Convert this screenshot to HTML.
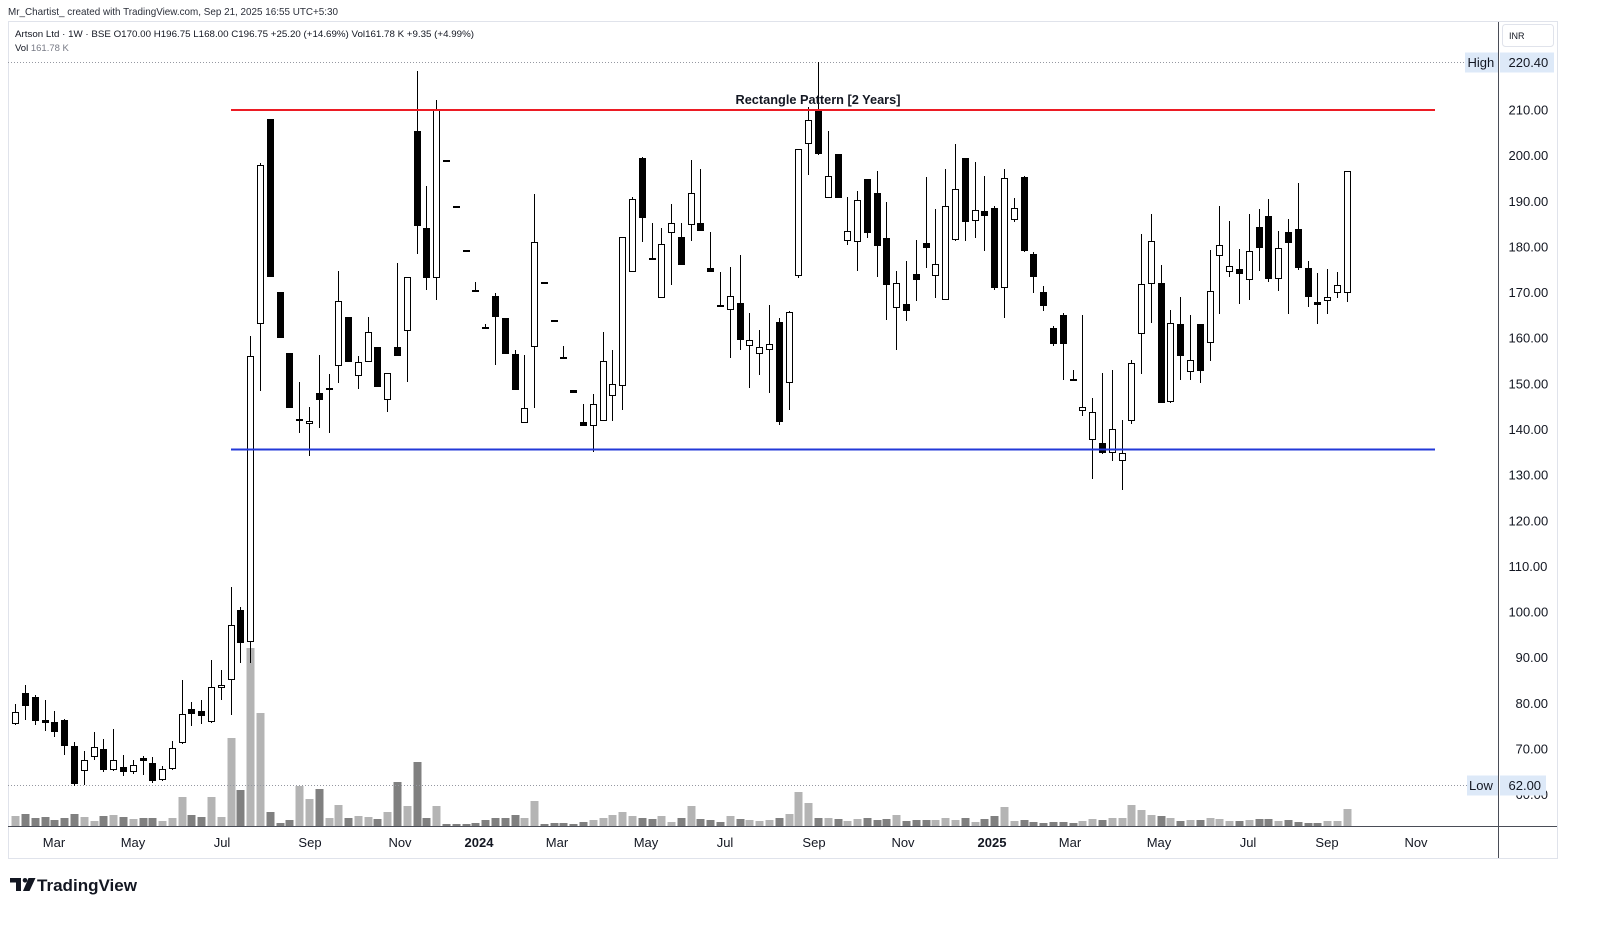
<!DOCTYPE html>
<html><head><meta charset="utf-8"><style>
html,body{margin:0;padding:0;background:#fff;}
body{width:1600px;height:927px;overflow:hidden;}
svg{display:block;font-family:"Liberation Sans",sans-serif;}
</style></head><body>
<svg width="1600" height="927" viewBox="0 0 1600 927" xmlns="http://www.w3.org/2000/svg">
<rect x="0" y="0" width="1600" height="927" fill="#fff"/>
<text x="8" y="15" font-size="10.5" fill="#2a2e39" textLength="330" lengthAdjust="spacingAndGlyphs">Mr_Chartist_ created with TradingView.com, Sep 21, 2025 16:55 UTC+5:30</text>
<rect x="8.5" y="21.5" width="1549" height="837" fill="none" stroke="#e0e3eb"/>
<text x="15" y="37" font-size="9.5" fill="#131722" textLength="459" lengthAdjust="spacingAndGlyphs">Artson Ltd · 1W · BSE  O170.00  H196.75  L168.00  C196.75  +25.20 (+14.69%)  Vol161.78 K  +9.35 (+4.99%)</text>
<text x="15" y="51" font-size="9.5" fill="#131722">Vol <tspan fill="#787b86">161.78 K</tspan></text>

<!-- volume -->
<g fill="#b4b4b4">
<rect x="11.5" y="816" width="8" height="10"/><rect x="80.5" y="817" width="8" height="9"/><rect x="90.5" y="821" width="8" height="5"/><rect x="109.5" y="815" width="8" height="11"/><rect x="129.5" y="819" width="8" height="7"/><rect x="158.5" y="821" width="8" height="5"/><rect x="168.5" y="818" width="8" height="8"/><rect x="178.5" y="797" width="8" height="29"/><rect x="207.5" y="797" width="8" height="29"/><rect x="217.5" y="817" width="8" height="9"/><rect x="227.5" y="738" width="8" height="88"/><rect x="246.5" y="648" width="8" height="178"/><rect x="256.5" y="713" width="8" height="113"/><rect x="295.5" y="786" width="8" height="40"/><rect x="305.5" y="799" width="8" height="27"/><rect x="325.5" y="818" width="8" height="8"/><rect x="334.5" y="805" width="8" height="21"/><rect x="354.5" y="816" width="8" height="10"/><rect x="364.5" y="817" width="8" height="9"/><rect x="383.5" y="812" width="8" height="14"/><rect x="403.5" y="806" width="8" height="20"/><rect x="432.5" y="806" width="8" height="20"/><rect x="520.5" y="818" width="8" height="8"/><rect x="530.5" y="801" width="8" height="25"/><rect x="589.5" y="820" width="8" height="6"/><rect x="599.5" y="818" width="8" height="8"/><rect x="608.5" y="815" width="8" height="11"/><rect x="618.5" y="812" width="8" height="14"/><rect x="628.5" y="816" width="8" height="10"/><rect x="657.5" y="816" width="8" height="10"/><rect x="667.5" y="822" width="8" height="4"/><rect x="687.5" y="806" width="8" height="20"/><rect x="726.5" y="816" width="8" height="10"/><rect x="745.5" y="820" width="8" height="6"/><rect x="755.5" y="821" width="8" height="5"/><rect x="765.5" y="820" width="8" height="6"/><rect x="785.5" y="814" width="8" height="12"/><rect x="794.5" y="792" width="8" height="34"/><rect x="804.5" y="803" width="8" height="23"/><rect x="824.5" y="818" width="8" height="8"/><rect x="843.5" y="821" width="8" height="5"/><rect x="853.5" y="819" width="8" height="7"/><rect x="892.5" y="815" width="8" height="11"/><rect x="931.5" y="820" width="8" height="6"/><rect x="941.5" y="818" width="8" height="8"/><rect x="951.5" y="820" width="8" height="6"/><rect x="971.5" y="822" width="8" height="4"/><rect x="1000.5" y="807" width="8" height="19"/><rect x="1010.5" y="821" width="8" height="5"/><rect x="1078.5" y="821" width="8" height="5"/><rect x="1088.5" y="819" width="8" height="7"/><rect x="1108.5" y="818" width="8" height="8"/><rect x="1118.5" y="818" width="8" height="8"/><rect x="1127.5" y="805" width="8" height="21"/><rect x="1137.5" y="810" width="8" height="16"/><rect x="1147.5" y="815" width="8" height="11"/><rect x="1166.5" y="818" width="8" height="8"/><rect x="1186.5" y="820" width="8" height="6"/><rect x="1206.5" y="818" width="8" height="8"/><rect x="1215.5" y="819" width="8" height="7"/><rect x="1225.5" y="821" width="8" height="5"/><rect x="1245.5" y="820" width="8" height="6"/><rect x="1274.5" y="821" width="8" height="5"/><rect x="1323.5" y="821" width="8" height="5"/><rect x="1333.5" y="821" width="8" height="5"/><rect x="1343.5" y="809" width="8" height="17"/>
</g>
<g fill="#808080">
<rect x="21.5" y="814" width="8" height="12"/><rect x="31.5" y="818" width="8" height="8"/><rect x="41.5" y="817" width="8" height="9"/><rect x="50.5" y="820" width="8" height="6"/><rect x="60.5" y="818" width="8" height="8"/><rect x="70.5" y="814" width="8" height="12"/><rect x="99.5" y="816" width="8" height="10"/><rect x="119.5" y="817" width="8" height="9"/><rect x="139.5" y="818" width="8" height="8"/><rect x="148.5" y="818" width="8" height="8"/><rect x="187.5" y="815" width="8" height="11"/><rect x="197.5" y="817" width="8" height="9"/><rect x="236.5" y="790" width="8" height="36"/><rect x="266.5" y="812" width="8" height="14"/><rect x="276.5" y="823" width="8" height="3"/><rect x="285.5" y="820" width="8" height="6"/><rect x="315.5" y="789" width="8" height="37"/><rect x="344.5" y="818" width="8" height="8"/><rect x="373.5" y="819" width="8" height="7"/><rect x="393.5" y="782" width="8" height="44"/><rect x="413.5" y="762" width="8" height="64"/><rect x="422.5" y="818" width="8" height="8"/><rect x="442.5" y="824" width="8" height="2"/><rect x="452.5" y="824" width="8" height="2"/><rect x="462.5" y="824" width="8" height="2"/><rect x="471.5" y="823" width="8" height="3"/><rect x="481.5" y="820" width="8" height="6"/><rect x="491.5" y="818" width="8" height="8"/><rect x="501.5" y="818" width="8" height="8"/><rect x="511.5" y="815" width="8" height="11"/><rect x="540.5" y="824" width="8" height="2"/><rect x="550.5" y="823" width="8" height="3"/><rect x="559.5" y="823" width="8" height="3"/><rect x="569.5" y="824" width="8" height="2"/><rect x="579.5" y="822" width="8" height="4"/><rect x="638.5" y="818" width="8" height="8"/><rect x="648.5" y="819" width="8" height="7"/><rect x="677.5" y="818" width="8" height="8"/><rect x="696.5" y="819" width="8" height="7"/><rect x="706.5" y="820" width="8" height="6"/><rect x="716.5" y="822" width="8" height="4"/><rect x="736.5" y="819" width="8" height="7"/><rect x="775.5" y="818" width="8" height="8"/><rect x="814.5" y="818" width="8" height="8"/><rect x="834.5" y="819" width="8" height="7"/><rect x="863.5" y="818" width="8" height="8"/><rect x="873.5" y="820" width="8" height="6"/><rect x="882.5" y="819" width="8" height="7"/><rect x="902.5" y="821" width="8" height="5"/><rect x="912.5" y="820" width="8" height="6"/><rect x="922.5" y="820" width="8" height="6"/><rect x="961.5" y="818" width="8" height="8"/><rect x="980.5" y="819" width="8" height="7"/><rect x="990.5" y="816" width="8" height="10"/><rect x="1020.5" y="820" width="8" height="6"/><rect x="1029.5" y="822" width="8" height="4"/><rect x="1039.5" y="823" width="8" height="3"/><rect x="1049.5" y="822" width="8" height="4"/><rect x="1059.5" y="822" width="8" height="4"/><rect x="1069.5" y="823" width="8" height="3"/><rect x="1098.5" y="820" width="8" height="6"/><rect x="1157.5" y="816" width="8" height="10"/><rect x="1176.5" y="821" width="8" height="5"/><rect x="1196.5" y="820" width="8" height="6"/><rect x="1235.5" y="821" width="8" height="5"/><rect x="1255.5" y="819" width="8" height="7"/><rect x="1264.5" y="819" width="8" height="7"/><rect x="1284.5" y="820" width="8" height="6"/><rect x="1294.5" y="822" width="8" height="4"/><rect x="1304.5" y="823" width="8" height="3"/><rect x="1313.5" y="823" width="8" height="3"/>
</g>

<!-- high/low dotted lines -->
<line x1="8" y1="62.5" x2="1465" y2="62.5" stroke="#9598a1" stroke-width="1" stroke-dasharray="1 2"/>
<line x1="8" y1="785.5" x2="1467" y2="785.5" stroke="#9598a1" stroke-width="1" stroke-dasharray="1 2"/>

<!-- wicks -->
<path fill="none" stroke="#000" stroke-width="1" d="M15.5 704V725M25.5 685V720M35.5 695V725M45.5 700V731M54.5 711V737M64.5 719V755M74.5 742V786M84.5 751V785M94.5 732V760M103.5 739V772M113.5 729V771M123.5 755V776M133.5 760V774M143.5 756V775M152.5 757V783M162.5 766V781M172.5 741V770M182.5 680V744M191.5 702V726M201.5 700V724M211.5 660V723M221.5 670V700M231.5 587V715M240.5 607V663M250.5 336V663M260.5 163V391M270.5 119V277M280.5 292V338M289.5 353V408M299.5 382V433M309.5 407V456M319.5 355V428M329.5 374V433M338.5 271V383M348.5 317V362M358.5 356V389M368.5 317V362M377.5 347V387M387.5 373V412M397.5 263V356M407.5 277V382M417.5 71V254M426.5 186V290M436.5 100V300M475.5 282V291M485.5 324V329M495.5 293V365M505.5 318V354M515.5 350V390M524.5 355V423M534.5 194V408M563.5 346V358M583.5 404V426M593.5 394V452M603.5 332V421M612.5 350V421M622.5 237V410M632.5 197V272M642.5 157V242M652.5 223V259M661.5 228V298M671.5 204V285M681.5 223V265M691.5 160V241M700.5 169V231M710.5 232V272M720.5 272V307M730.5 267V358M740.5 255V350M749.5 313V388M759.5 330V375M769.5 305V393M779.5 318V425M789.5 311V410M798.5 149V278M808.5 107V175M818.5 62V155M828.5 131V198M838.5 154V198M847.5 197V245M857.5 191V271M867.5 179V238M877.5 171V277M886.5 202V320M896.5 271V350M906.5 261V321M916.5 240V301M926.5 177V268M935.5 209V298M945.5 169V300M955.5 144V241M965.5 158V241M975.5 162V238M984.5 176V251M994.5 206V290M1004.5 169V318M1014.5 198V222M1024.5 176V252M1033.5 252V293M1043.5 286V311M1053.5 326V346M1063.5 313V380M1073.5 370V381M1082.5 315V416M1092.5 398V479M1102.5 373V454M1112.5 370V461M1122.5 420V490M1131.5 360V424M1141.5 234V374M1151.5 214V323M1161.5 265V403M1170.5 310V403M1180.5 297V380M1190.5 315V380M1200.5 324V383M1210.5 250V361M1219.5 206V314M1229.5 221V277M1239.5 249V304M1249.5 214V300M1259.5 209V271M1268.5 199V282M1278.5 231V291M1288.5 219V314M1298.5 183V270M1308.5 261V307M1317.5 273V324M1327.5 269V314M1337.5 272V298M1347.5 171V302"/>

<!-- black bodies -->
<g fill="#000">
<rect x="22" y="693" width="7" height="13"/><rect x="32" y="697" width="7" height="24"/><rect x="42" y="720" width="7" height="3"/><rect x="51" y="722" width="7" height="10"/><rect x="61" y="720" width="7" height="26"/><rect x="71" y="746" width="7" height="38"/><rect x="100" y="749" width="7" height="21"/><rect x="120" y="767" width="7" height="5"/><rect x="140" y="758" width="7" height="3"/><rect x="149" y="763" width="7" height="18"/><rect x="188" y="709" width="7" height="5"/><rect x="198" y="711" width="7" height="5"/><rect x="237" y="610" width="7" height="33"/><rect x="267" y="119" width="7" height="158"/><rect x="277" y="292" width="7" height="46"/><rect x="286" y="353" width="7" height="55"/><rect x="296" y="419" width="7" height="2"/><rect x="316" y="393" width="7" height="7"/><rect x="326" y="388" width="7" height="2"/><rect x="345" y="317" width="7" height="45"/><rect x="374" y="347" width="7" height="40"/><rect x="394" y="347" width="7" height="9"/><rect x="414" y="131" width="7" height="95"/><rect x="423" y="228" width="7" height="50"/><rect x="443" y="160" width="7" height="2"/><rect x="453" y="206" width="7" height="2"/><rect x="463" y="250" width="7" height="2"/><rect x="472" y="290" width="7" height="2"/><rect x="482" y="327" width="7" height="2"/><rect x="492" y="296" width="7" height="21"/><rect x="502" y="318" width="7" height="36"/><rect x="512" y="354" width="7" height="36"/><rect x="541" y="282" width="7" height="2"/><rect x="551" y="320" width="7" height="2"/><rect x="560" y="357" width="7" height="2"/><rect x="570" y="390" width="7" height="3"/><rect x="580" y="422" width="7" height="4"/><rect x="639" y="158" width="7" height="60"/><rect x="649" y="258" width="7" height="2"/><rect x="678" y="237" width="7" height="28"/><rect x="697" y="223" width="7" height="8"/><rect x="707" y="268" width="7" height="4"/><rect x="717" y="305" width="7" height="2"/><rect x="737" y="303" width="7" height="37"/><rect x="776" y="322" width="7" height="100"/><rect x="815" y="109" width="7" height="45"/><rect x="835" y="154" width="7" height="44"/><rect x="864" y="179" width="7" height="54"/><rect x="874" y="193" width="7" height="53"/><rect x="883" y="238" width="7" height="47"/><rect x="903" y="304" width="7" height="7"/><rect x="913" y="274" width="7" height="6"/><rect x="923" y="243" width="7" height="5"/><rect x="962" y="158" width="7" height="64"/><rect x="981" y="211" width="7" height="5"/><rect x="991" y="208" width="7" height="80"/><rect x="1021" y="177" width="7" height="74"/><rect x="1030" y="254" width="7" height="23"/><rect x="1040" y="292" width="7" height="14"/><rect x="1050" y="328" width="7" height="16"/><rect x="1060" y="315" width="7" height="29"/><rect x="1070" y="379" width="7" height="2"/><rect x="1099" y="443" width="7" height="10"/><rect x="1158" y="283" width="7" height="120"/><rect x="1177" y="324" width="7" height="32"/><rect x="1197" y="324" width="7" height="47"/><rect x="1236" y="269" width="7" height="5"/><rect x="1256" y="227" width="7" height="21"/><rect x="1265" y="216" width="7" height="63"/><rect x="1285" y="232" width="7" height="11"/><rect x="1295" y="229" width="7" height="39"/><rect x="1305" y="268" width="7" height="29"/><rect x="1314" y="302" width="7" height="3"/>
</g>

<!-- hollow bodies -->
<g fill="#fff" stroke="#000" stroke-width="1">
<rect x="12.5" y="712.5" width="6" height="11"/><rect x="81.5" y="760.5" width="6" height="10"/><rect x="91.5" y="747.5" width="6" height="9"/><rect x="110.5" y="760.5" width="6" height="9"/><rect x="130.5" y="765.5" width="6" height="6"/><rect x="159.5" y="769.5" width="6" height="10"/><rect x="169.5" y="748.5" width="6" height="20"/><rect x="179.5" y="714.5" width="6" height="28"/><rect x="208.5" y="687.5" width="6" height="34"/><rect x="218.5" y="685.5" width="6" height="2"/><rect x="228.5" y="625.5" width="6" height="54"/><rect x="247.5" y="356.5" width="6" height="285"/><rect x="257.5" y="165.5" width="6" height="158"/><rect x="306.5" y="421.5" width="6" height="2"/><rect x="335.5" y="301.5" width="6" height="64"/><rect x="355.5" y="362.5" width="6" height="13"/><rect x="365.5" y="332.5" width="6" height="29"/><rect x="384.5" y="373.5" width="6" height="26"/><rect x="404.5" y="277.5" width="6" height="53"/><rect x="433.5" y="110.5" width="6" height="167"/><rect x="521.5" y="408.5" width="6" height="14"/><rect x="531.5" y="242.5" width="6" height="104"/><rect x="590.5" y="404.5" width="6" height="21"/><rect x="600.5" y="361.5" width="6" height="59"/><rect x="609.5" y="384.5" width="6" height="11"/><rect x="619.5" y="237.5" width="6" height="148"/><rect x="629.5" y="199.5" width="6" height="72"/><rect x="658.5" y="244.5" width="6" height="53"/><rect x="668.5" y="223.5" width="6" height="9"/><rect x="688.5" y="193.5" width="6" height="31"/><rect x="727.5" y="296.5" width="6" height="13"/><rect x="746.5" y="340.5" width="6" height="5"/><rect x="756.5" y="347.5" width="6" height="6"/><rect x="766.5" y="344.5" width="6" height="5"/><rect x="786.5" y="312.5" width="6" height="70"/><rect x="795.5" y="149.5" width="6" height="126"/><rect x="805.5" y="120.5" width="6" height="23"/><rect x="825.5" y="176.5" width="6" height="21"/><rect x="844.5" y="231.5" width="6" height="9"/><rect x="854.5" y="200.5" width="6" height="41"/><rect x="893.5" y="283.5" width="6" height="24"/><rect x="932.5" y="264.5" width="6" height="11"/><rect x="942.5" y="206.5" width="6" height="93"/><rect x="952.5" y="189.5" width="6" height="50"/><rect x="972.5" y="210.5" width="6" height="10"/><rect x="1001.5" y="178.5" width="6" height="109"/><rect x="1011.5" y="208.5" width="6" height="11"/><rect x="1079.5" y="407.5" width="6" height="3"/><rect x="1089.5" y="412.5" width="6" height="27"/><rect x="1109.5" y="429.5" width="6" height="23"/><rect x="1119.5" y="453.5" width="6" height="7"/><rect x="1128.5" y="363.5" width="6" height="57"/><rect x="1138.5" y="284.5" width="6" height="49"/><rect x="1148.5" y="241.5" width="6" height="42"/><rect x="1167.5" y="323.5" width="6" height="78"/><rect x="1187.5" y="360.5" width="6" height="11"/><rect x="1207.5" y="291.5" width="6" height="51"/><rect x="1216.5" y="245.5" width="6" height="10"/><rect x="1226.5" y="266.5" width="6" height="5"/><rect x="1246.5" y="251.5" width="6" height="28"/><rect x="1275.5" y="248.5" width="6" height="30"/><rect x="1324.5" y="297.5" width="6" height="3"/><rect x="1334.5" y="285.5" width="6" height="7"/><rect x="1344.5" y="171.5" width="6" height="121"/>
</g>

<!-- rectangle pattern drawing -->
<line x1="231" y1="110" x2="1435" y2="110" stroke="#ec1c24" stroke-width="2"/>
<line x1="231" y1="449.5" x2="1435" y2="449.5" stroke="#2339d8" stroke-width="2"/>
<text x="818" y="104" font-size="12.5" font-weight="bold" fill="#131722" text-anchor="middle" textLength="165" lengthAdjust="spacingAndGlyphs">Rectangle Pattern [2 Years]</text>

<!-- axes separators -->
<line x1="1498.5" y1="22" x2="1498.5" y2="858" stroke="#4a4d57" stroke-width="1"/>
<line x1="8" y1="826.5" x2="1557" y2="826.5" stroke="#4a4d57" stroke-width="1"/>

<!-- price axis -->
<rect x="1502.5" y="24.5" width="51" height="22" rx="3" fill="#fff" stroke="#e0e3eb"/>
<text x="1509" y="39" font-size="9" fill="#131722">INR</text>
<g font-size="13" fill="#131722">
<text x="1508.5" y="114.5">210.00</text>
<text x="1508.5" y="160">200.00</text>
<text x="1508.5" y="205.8">190.00</text>
<text x="1508.5" y="251.4">180.00</text>
<text x="1508.5" y="297">170.00</text>
<text x="1508.5" y="342.7">160.00</text>
<text x="1508.5" y="388.3">150.00</text>
<text x="1508.5" y="434">140.00</text>
<text x="1508.5" y="479.6">130.00</text>
<text x="1508.5" y="525.3">120.00</text>
<text x="1508.5" y="570.9">110.00</text>
<text x="1508.5" y="616.5">100.00</text>
<text x="1515.5" y="662.2">90.00</text>
<text x="1515.5" y="707.8">80.00</text>
<text x="1515.5" y="753.4">70.00</text>
<text x="1515.5" y="799">60.00</text>
</g>
<rect x="1465" y="52.5" width="33" height="20" fill="#dde9f8"/>
<text x="1467.5" y="67" font-size="13" fill="#131722">High</text>
<rect x="1500" y="52.5" width="54" height="20" fill="#dde9f8"/>
<text x="1508.5" y="67" font-size="13" fill="#131722">220.40</text>
<rect x="1467" y="775.5" width="31" height="20" fill="#dde9f8"/>
<text x="1469" y="790" font-size="13" fill="#131722">Low</text>
<rect x="1500" y="775.5" width="46" height="20" fill="#dde9f8"/>
<text x="1508.5" y="790" font-size="13" fill="#131722">62.00</text>

<!-- time axis -->
<g font-size="13" fill="#131722" text-anchor="middle">
<text x="54" y="847">Mar</text>
<text x="133" y="847">May</text>
<text x="222" y="847">Jul</text>
<text x="310" y="847">Sep</text>
<text x="400" y="847">Nov</text>
<text x="479" y="847" font-weight="bold">2024</text>
<text x="557" y="847">Mar</text>
<text x="646" y="847">May</text>
<text x="725" y="847">Jul</text>
<text x="814" y="847">Sep</text>
<text x="903" y="847">Nov</text>
<text x="992" y="847" font-weight="bold">2025</text>
<text x="1070" y="847">Mar</text>
<text x="1159" y="847">May</text>
<text x="1248" y="847">Jul</text>
<text x="1327" y="847">Sep</text>
<text x="1416" y="847">Nov</text>
</g>

<!-- logo -->
<g fill="#131722">
<rect x="10" y="878" width="11" height="4.5"/>
<rect x="16" y="878" width="5" height="13"/>
<circle cx="25" cy="880.3" r="2.3"/>
<polygon points="28.5,878 35.5,878 29.5,891 23,891"/>
</g>
<text x="37" y="891" font-size="17" font-weight="bold" fill="#131722" textLength="100" lengthAdjust="spacingAndGlyphs">TradingView</text>
</svg>
</body></html>
